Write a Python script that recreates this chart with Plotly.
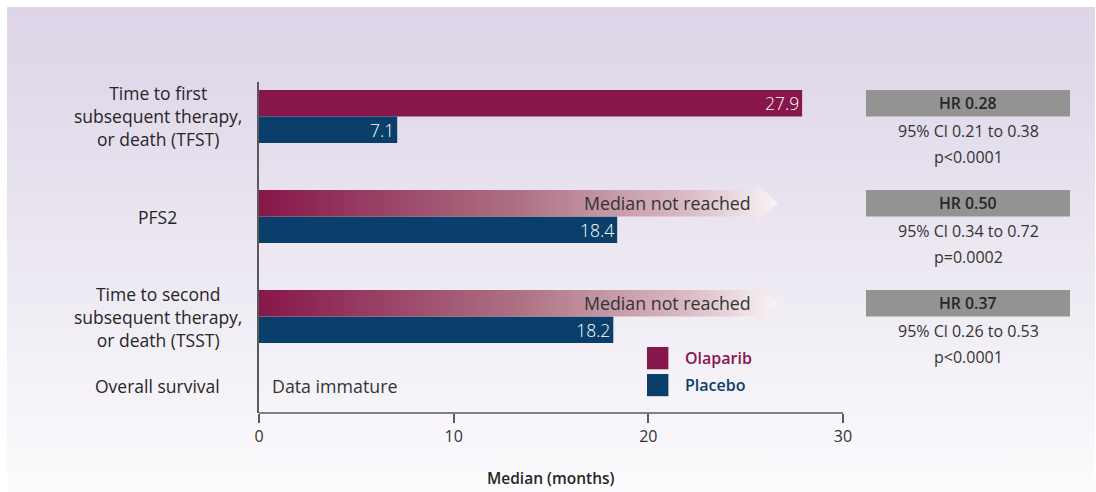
import plotly.graph_objects as go

# ---- data -----------------------------------------------------------------
categories = [
    "Time to first<br>subsequent therapy,<br>or death (TFST)",
    "PFS2",
    "Time to second<br>subsequent therapy,<br>or death (TSST)",
]
os_label = "Overall survival"
os_note = "Data immature"

olaparib_median = [27.9, None, None]      # None -> median not reached
placebo_median = [7.1, 18.4, 18.2]
not_reached_text = "Median not reached"

hr_values = ["0.28", "0.50", "0.37"]
ci_low = ["0.21", "0.34", "0.26"]
ci_high = ["0.38", "0.72", "0.53"]
p_values = ["p<0.0001", "p=0.0002", "p<0.0001"]

x_ticks = [0, 10, 20, 30]
series_names = ["Olaparib", "Placebo"]

# ---- styling --------------------------------------------------------------
W, H = 1096, 492
FONT = "Open Sans"
OLA = "#87174A"
PLA = "#0B3F6B"
TXT = "#262626"

group_pos = [1, 2, 3]
os_pos = 3.69
bar_w = 0.265
arrow_body_end = 25.6     # where the open-ended bar body stops
arrow_tip = 26.65         # tip of the arrow head
head_half = 0.19

fig = go.Figure()
shapes = []
annotations = []

# background panel (subplot x/y spans the whole figure, drawn first)
fig.add_trace(go.Scatter(
    x=[7, 1095, 1095, 7, 7], y=[0, 0, 485, 485, 0],
    mode="lines", line=dict(width=0), fill="toself",
    fillgradient=dict(type="vertical",
                      colorscale=[[0, "#FCFBFD"], [0.55, "#EAE5F0"], [0.85, "#E0D9EA"], [1, "#DED6E8"]]),
    hoverinfo="skip", showlegend=False, xaxis="x", yaxis="y",
))

# open-ended gradient arrows for "median not reached"
for pos, val in zip(group_pos, olaparib_median):
    if val is not None:
        continue
    top, bot = pos - bar_w, pos
    mid = pos - bar_w / 2
    xs = [0, arrow_body_end, arrow_body_end, arrow_tip, arrow_body_end, arrow_body_end, 0, 0]
    ys = [top, top, mid - head_half, mid, mid + head_half, bot, bot, top]
    fig.add_trace(go.Scatter(
        x=xs, y=ys, mode="lines", line=dict(width=0), fill="toself",
        fillgradient=dict(type="horizontal",
                          colorscale=[[0, OLA], [0.5, "#AD7183"], [0.82, "#D9B9C3"], [1, "#F8F4F6"]]),
        hoverinfo="skip", showlegend=False, xaxis="x2", yaxis="y2",
    ))
    annotations.append(dict(x=arrow_body_end - 0.22, y=mid, xref="x2", yref="y2",
                            text=not_reached_text, showarrow=False, xanchor="right",
                            yanchor="middle",
                            font=dict(family=FONT, size=17.8, color="#333333")))

bar_text_font = dict(family=FONT, size=17.5, color="white", weight=300)
# olaparib bars (reached medians)
fig.add_trace(go.Bar(
    y=group_pos, x=olaparib_median, orientation="h",
    width=bar_w, offset=-bar_w, marker=dict(color=OLA, line=dict(width=0)),
    text=[f"{v}" if v is not None else "" for v in olaparib_median],
    textposition="inside", insidetextanchor="end", constraintext="none",
    textfont=bar_text_font,
    name=series_names[0], showlegend=False, xaxis="x2", yaxis="y2",
))
# placebo bars
fig.add_trace(go.Bar(
    y=group_pos, x=placebo_median, orientation="h",
    width=bar_w, offset=0, marker=dict(color=PLA, line=dict(width=0)),
    text=[f"{v}" for v in placebo_median],
    textposition="inside", insidetextanchor="end", constraintext="none",
    textfont=bar_text_font,
    name=series_names[1], showlegend=False, xaxis="x2", yaxis="y2",
))

# category labels
label_font = dict(family=FONT, size=17.5, color=TXT)
label_x = -0.173
for pos, lab in zip(group_pos, categories):
    annotations.append(dict(x=label_x, y=pos, xref="x2 domain", yref="y2", text=lab,
                            showarrow=False, xanchor="center", yanchor="middle",
                            align="center", font=label_font))
annotations.append(dict(x=label_x, y=os_pos, xref="x2 domain", yref="y2", text=os_label,
                        showarrow=False, xanchor="center", yanchor="middle", font=label_font))
annotations.append(dict(x=0.55, y=os_pos, xref="x2", yref="y2", text=os_note,
                        showarrow=False, xanchor="left", yanchor="middle",
                        font=dict(family=FONT, size=17.8, color="#333333")))

# hazard-ratio panel
bx0, bx1 = 1.0394, 1.3887
cx = (bx0 + bx1) / 2
for pos, hr, lo, hi, p in zip(group_pos, hr_values, ci_low, ci_high, p_values):
    shapes.append(dict(type="rect", xref="x2 domain", yref="y2", x0=bx0, x1=bx1,
                       y0=pos - bar_w, y1=pos, fillcolor="#939394", line=dict(width=0)))
    annotations.append(dict(x=cx, y=pos - bar_w / 2, xref="x2 domain", yref="y2",
                            text=f"HR {hr}", showarrow=False, xanchor="center", yanchor="middle",
                            font=dict(family=FONT, size=15.8, color="#262626", weight=600)))
    annotations.append(dict(x=cx, y=pos + 0.145, xref="x2 domain", yref="y2",
                            text=f"95% Cl {lo} to {hi}", showarrow=False,
                            xanchor="center", yanchor="middle",
                            font=dict(family=FONT, size=16, color="#333333")))
    annotations.append(dict(x=cx, y=pos + 0.405, xref="x2 domain", yref="y2",
                            text=p, showarrow=False, xanchor="center", yanchor="middle",
                            font=dict(family=FONT, size=16, color="#333333")))

# legend
for (y0, y1), name, col in zip([(3.305, 3.528), (3.575, 3.797)], series_names, [OLA, PLA]):
    shapes.append(dict(type="rect", xref="x2", yref="y2", x0=19.93, x1=21.03, y0=y0, y1=y1,
                       fillcolor=col, line=dict(width=0)))
    annotations.append(dict(x=21.8, y=(y0 + y1) / 2, xref="x2", yref="y2", text=name,
                            showarrow=False, xanchor="left", yanchor="middle",
                            font=dict(family=FONT, size=16, color=col, weight=600)))

# x axis baseline, extending slightly left of the value axis
shapes.append(dict(type="line", xref="x2", yref="y2 domain", x0=-0.45, x1=30, y0=0, y1=0,
                   line=dict(color="#5A5A5A", width=1.5), layer="above"))

annotations.append(dict(x=0.5, y=-0.195, xref="x2 domain", yref="y2 domain",
                        text="Median (months)", showarrow=False,
                        xanchor="center", yanchor="middle",
                        font=dict(family=FONT, size=15.5, color=TXT, weight=600)))

fig.update_layout(
    width=W, height=H, autosize=False,
    margin=dict(l=0, r=0, t=0, b=0, pad=0),
    paper_bgcolor="white", plot_bgcolor="rgba(0,0,0,0)",
    barmode="overlay", showlegend=False,
    shapes=shapes, annotations=annotations,
    xaxis=dict(domain=[0, 1], range=[0, W], visible=False, fixedrange=True, automargin=False),
    yaxis=dict(domain=[0, 1], range=[0, H], visible=False, fixedrange=True, automargin=False),
    xaxis2=dict(domain=[259 / W, 843 / W], range=[0, 30], anchor="y2", automargin=False,
                tickvals=x_ticks, ticks="outside", ticklen=9, tickwidth=1.5, tickcolor="#5A5A5A",
                showline=False, showgrid=False, zeroline=False,
                tickfont=dict(family=FONT, size=16, color="#333333")),
    yaxis2=dict(domain=[(H - 413) / H, (H - 82) / H], range=[3.965, 0.655], anchor="x2",
                automargin=False,
                showline=True, linecolor="#5A5A5A", linewidth=1.5, showgrid=False,
                zeroline=False, showticklabels=False, ticks=""),
)

fig.write_html("out.html", config={"displayModeBar": False})
